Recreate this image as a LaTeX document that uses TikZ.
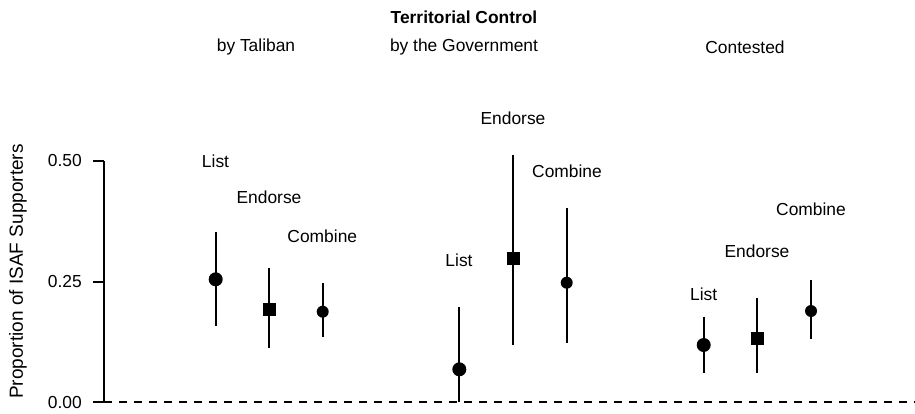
\documentclass[tikz,border=0pt]{standalone}
\usepackage{fontspec}
\setmainfont{Liberation Sans}
\begin{document}
\begin{tikzpicture}[x=1pt,y=-1pt,
  lbl/.style={font=\fontsize{17.4}{20}\selectfont, inner sep=0pt},
  ticklbl/.style={font=\fontsize{17.4}{20}\selectfont, inner sep=0pt, anchor=east},
  bar/.style={line width=2pt},
  dotL/.style={circle, fill=black, minimum size=14pt, inner sep=0pt},
  dotC/.style={circle, fill=black, minimum size=12pt, inner sep=0pt},
  sq/.style={rectangle, fill=black, minimum size=12.6pt, inner sep=0pt}]
\useasboundingbox (0,0) rectangle (915,413);
% titles
\node[lbl, font=\fontsize{17.4}{20}\selectfont\bfseries] (title) at (464,17) {Territorial Control};
\node[lbl] (tal) at (256,47) {by Taliban};
\node[lbl] (gov) at (464,47) {by the Government};
\node[lbl] (con) at (745,47) {Contested};
% axis
\coordinate (a0) at (104,402.3);
\coordinate (a50) at (104,161);
\coordinate (a25) at (104,281.7);
\coordinate (t0) at (93,402.3);
\coordinate (t25) at (93,281.7);
\coordinate (t50) at (93,161);
\coordinate (dend) at (915,402.3);
\draw[line width=2pt] (a50) -- (a0);
\draw[line width=2pt] (t0) -- (a0);
\draw[line width=2pt] (t25) -- (a25);
\draw[line width=2pt] (t50) -- (a50);
\draw[line width=2pt, dash pattern=on 7.5pt off 7.5pt] (a0) -- (dend);
\node[ticklbl] (l0) at (82,402.3) {0.00};
\node[ticklbl] (l25) at (82,281.7) {0.25};
\node[ticklbl] (l50) at (82,161) {0.50};
\node[lbl, font=\fontsize{19}{20}\selectfont, rotate=90] (ylab) at (18,271.5) {Proportion of ISAF Supporters};
% Taliban
\coordinate (tlt) at (215.7,232.3); \coordinate (tlb) at (215.7,325.7);
\draw[bar] (tlt) -- (tlb);
\node[dotL] (tl) at (215.7,279.3) {};
\coordinate (tet) at (269.3,268.3); \coordinate (teb) at (269.3,348.3);
\draw[bar] (tet) -- (teb);
\node[sq] (te) at (269.3,309.3) {};
\coordinate (tct) at (322.7,283.3); \coordinate (tcb) at (322.7,337.3);
\draw[bar] (tct) -- (tcb);
\node[dotC] (tc) at (322.7,311.7) {};
\node[lbl] (tlL) at (215.5,161.7) {List};
\node[lbl] (teL) at (269,197.7) {Endorse};
\node[lbl] (tcL) at (322.3,236.7) {Combine};
% Government
\coordinate (glt) at (459.3,306.7); \coordinate (glb) at (459.3,402.3);
\draw[bar] (glt) -- (glb);
\node[dotL] (gl) at (459.3,369.3) {};
\coordinate (get) at (513.3,155); \coordinate (geb) at (513.3,345);
\draw[bar] (get) -- (geb);
\node[sq] (ge) at (513.3,258.3) {};
\coordinate (gct) at (566.7,208.3); \coordinate (gcb) at (566.7,342.7);
\draw[bar] (gct) -- (gcb);
\node[dotC] (gc) at (566.7,282.7) {};
\node[lbl] (glL) at (459,260) {List};
\node[lbl] (geL) at (513,118) {Endorse};
\node[lbl] (gcL) at (567,171) {Combine};
% Contested
\coordinate (clt) at (703.7,316.7); \coordinate (clb) at (703.7,372.7);
\draw[bar] (clt) -- (clb);
\node[dotL] (cl) at (703.7,345) {};
\coordinate (cet) at (757.3,298.3); \coordinate (ceb) at (757.3,372.7);
\draw[bar] (cet) -- (ceb);
\node[sq] (ce) at (757.3,338.3) {};
\coordinate (cct) at (811,280); \coordinate (ccb) at (811,339);
\draw[bar] (cct) -- (ccb);
\node[dotC] (cc) at (811,311) {};
\node[lbl] (clL) at (703.7,294.3) {List};
\node[lbl] (ceL) at (757,251) {Endorse};
\node[lbl] (ccL) at (811,209.3) {Combine};
\end{tikzpicture}
\end{document}
